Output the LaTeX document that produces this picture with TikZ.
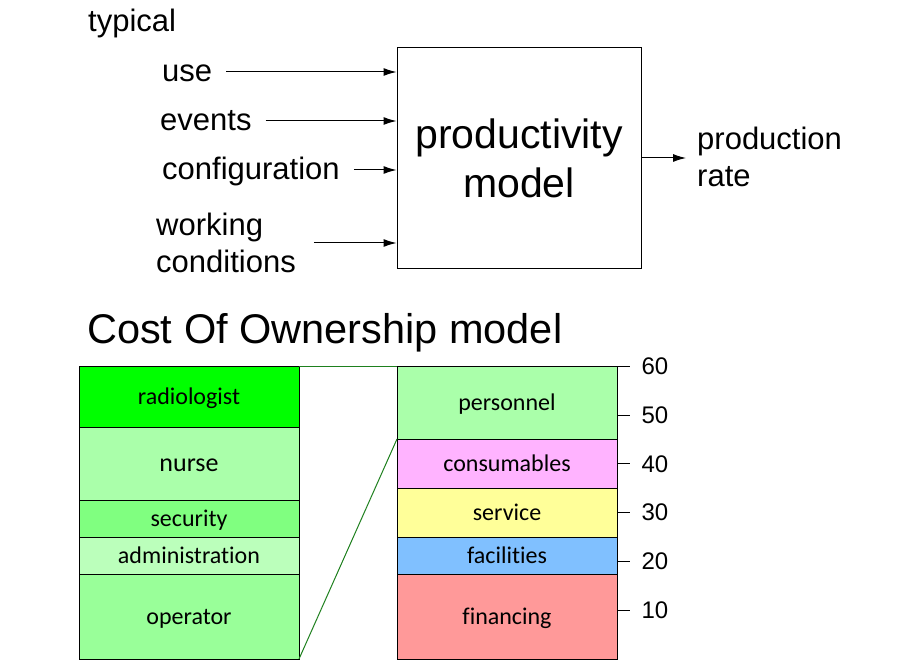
\documentclass[tikz,border=0pt]{standalone}
\usepackage{fontspec}
\setmainfont{Liberation Sans}
\newfontfamily\boxfont[Ligatures={NoCommon,NoContextual}]{Carlito}
\usetikzlibrary{positioning,arrows.meta}
\definecolor{radgreen}{RGB}{0,255,0}
\definecolor{lightgreen}{RGB}{170,255,170}
\definecolor{midgreen}{RGB}{128,255,128}
\definecolor{palegreen}{RGB}{187,255,187}
\definecolor{opgreen}{RGB}{153,255,153}
\definecolor{pink}{RGB}{255,179,255}
\definecolor{paleyellow}{RGB}{255,255,153}
\definecolor{skyblue}{RGB}{128,192,255}
\definecolor{salmon}{RGB}{255,153,153}
\definecolor{zoomgreen}{RGB}{30,128,30}
\begin{document}
\begin{tikzpicture}[x=1pt,y=-1pt,
	lbl/.style={anchor=west, inner sep=0pt, font=\fontsize{31}{37}\selectfont, text height=24pt, text depth=4.5pt},
	lbl2/.style={anchor=west, inner sep=0pt, align=left, font=\fontsize{31}{37}\selectfont},
	arr/.style={-{Latex[length=13pt,width=8pt]}, line width=1pt},
	cell/.style={draw, line width=1pt, outer sep=0pt, inner sep=0pt, minimum width=220pt, text height=18pt, text depth=3pt, font=\boxfont\fontsize{24}{28}\selectfont},
	num/.style={anchor=west, inner sep=0pt, font=\fontsize{24}{28}\selectfont}]
		\useasboundingbox (0,0) rectangle (920,660);
		
		\node[lbl] (typical) at (88,22) {typical};
		\node[draw, line width=1pt, minimum width=244pt, minimum height=220pt, align=center, font=\fontsize{41}{49}\selectfont] (model) at (519,158) {productivity\\model};
		
		\node[lbl] (use) at (162,72) {use}; \draw[arr, shorten <=14pt] (use.east) -- (use.east -| model.west);
		\node[lbl] (events) at (160,121) {events}; \draw[arr, shorten <=14pt] (events.east) -- (events.east -| model.west);
		\node[lbl] (config) at (162,170) {configuration}; \draw[arr, shorten <=14pt] (config.east) -- (config.east -| model.west);
		\node[lbl2] (working) at (156,243) {working\\conditions}; \draw[arr, shorten <=18pt] (working.east) -- (working.east -| model.west);
		
		\node[lbl2] (rate) at (697,157) {production\\rate}; \draw[arr, shorten >=11pt] (model.east) -- (model.east -| rate.west);
		
		\node[anchor=base west, inner sep=0pt, font=\fontsize{41.5}{49}\selectfont] (title) at (87,343) {Cost Of Ownership model};
		
		\node[cell, anchor=north west, fill=radgreen, minimum height=61pt] (radiologist) at (79,366) {radiologist};
		\node[cell, fill=lightgreen, minimum height=73pt, below=0pt of radiologist, font=\boxfont\fontsize{26}{30}\selectfont] (nurse) {nurse};
		\node[cell, fill=midgreen, minimum height=37pt, below=0pt of nurse] (security) {security};
		\node[cell, fill=palegreen, minimum height=37pt, below=0pt of security] (admin) {administration};
		\node[cell, fill=opgreen, minimum height=85pt, below=0pt of admin] (operator) {operator};
		
		\node[cell, anchor=north west, fill=lightgreen, minimum height=73pt] (personnel) at (397,366) {personnel};
		\node[cell, fill=pink, minimum height=49pt, below=0pt of personnel] (consumables) {consumables};
		\node[cell, fill=paleyellow, minimum height=49pt, below=0pt of consumables] (service) {service};
		\node[cell, fill=skyblue, minimum height=37pt, below=0pt of service] (facilities) {facilities};
		\node[cell, fill=salmon, minimum height=85pt, below=0pt of facilities] (financing) {financing};
		
		\draw[zoomgreen, line width=1pt] (radiologist.north east) -- (personnel.north west);
		\draw[zoomgreen, line width=1pt] (operator.south east) -- (consumables.north west);
		
		\foreach \v in {10,20,...,60}
			\draw[line width=1pt] (617,{659-4.88*\v}) -- ++(13,0) node[num, xshift=11pt] (n\v) {\v};
\end{tikzpicture}
\end{document}
